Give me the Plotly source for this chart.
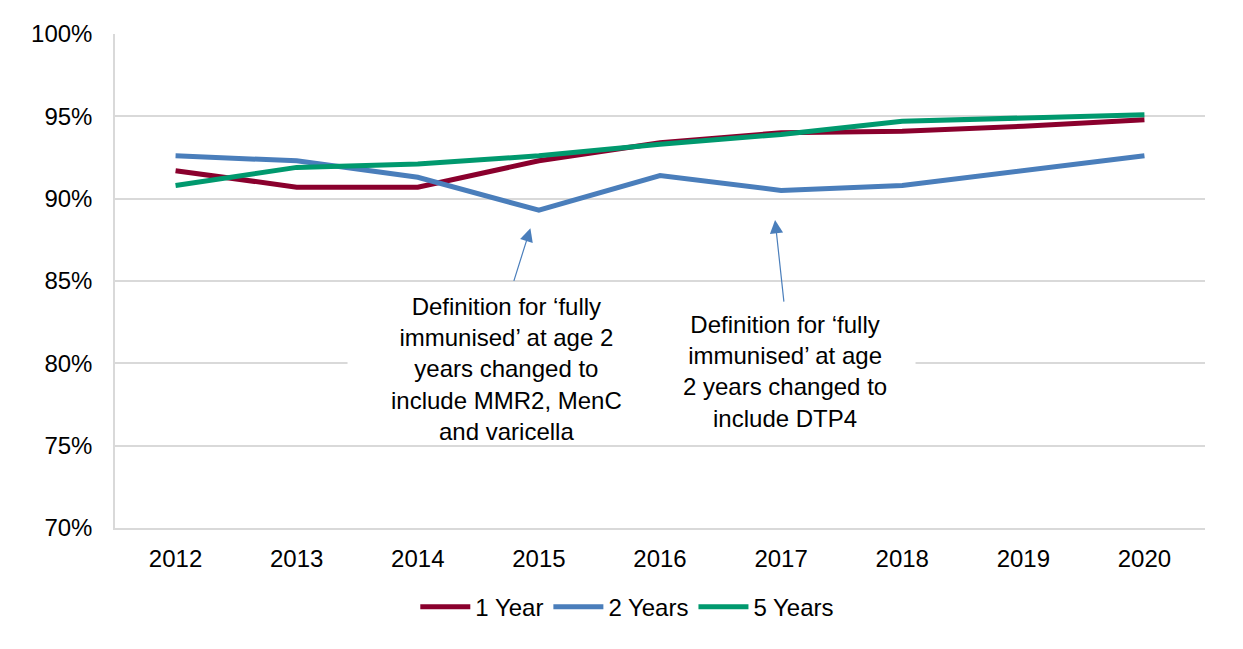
import plotly.graph_objects as go

# data (percent fully immunised)
years = [2012, 2013, 2014, 2015, 2016, 2017, 2018, 2019, 2020]
one_year = [91.7, 90.7, 90.7, 92.3, 93.4, 94.0, 94.1, 94.4, 94.8]
two_years = [92.6, 92.3, 91.3, 89.3, 91.4, 90.5, 90.8, 91.7, 92.6]
five_years = [90.8, 91.9, 92.1, 92.6, 93.3, 93.9, 94.7, 94.9, 95.1]

series = [
    ("1 Year", one_year, "#8a002d"),
    ("2 Years", two_years, "#4a7ebb"),
    ("5 Years", five_years, "#00996e"),
]

note_1 = "Definition for ‘fully<br>immunised’ at age 2<br>years changed to<br>include MMR2, MenC<br>and varicella"
note_2 = "Definition for ‘fully<br>immunised’ at age<br>2 years changed to<br>include DTP4"

FONT = "Liberation Sans, Arial, sans-serif"
GRID = "#d9d9d9"
SIZE = 24

fig = go.Figure()
for name, values, color in series:
    fig.add_trace(
        go.Scatter(
            x=years,
            y=values,
            name=name,
            mode="lines",
            line=dict(color=color, width=5),
        )
    )

# the text boxes in the original hide the 80% gridline behind them
fig.add_shape(
    type="rect",
    x0=2013.42,
    x1=2018.11,
    y0=79.0,
    y1=81.0,
    fillcolor="white",
    line=dict(width=0),
    layer="between",
)

for text, x, y in [(note_1, 2014.73, 79.65), (note_2, 2017.03, 79.5)]:
    fig.add_annotation(
        x=x,
        y=y,
        text=text,
        showarrow=False,
        font=dict(family=FONT, size=SIZE, color="#000000"),
        align="center",
    )

# arrows pointing at the dips in the 2 year series
for x, y, ax, ay in [(2014.93, 88.2, -17, 54), (2016.95, 88.7, 9, 83)]:
    fig.add_annotation(
        x=x,
        y=y,
        ax=ax,
        ay=ay,
        text="",
        showarrow=True,
        arrowhead=2,
        arrowsize=2.2,
        arrowwidth=1.2,
        arrowcolor="#4a7ebb",
    )

fig.update_xaxes(
    range=[2011.5, 2020.5],
    tickmode="array",
    tickvals=years,
    ticktext=[str(y) for y in years],
    showgrid=False,
    showline=True,
    linecolor=GRID,
    linewidth=1.5,
    ticks="",
    ticklabelstandoff=8,
    zeroline=False,
    tickfont=dict(family=FONT, size=SIZE, color="#000000"),
)
fig.update_yaxes(
    range=[70, 100],
    tickmode="linear",
    tick0=70,
    dtick=5,
    ticksuffix="%",
    showgrid=True,
    gridcolor=GRID,
    gridwidth=1.5,
    showline=True,
    linecolor=GRID,
    linewidth=1.5,
    ticks="",
    ticklabelstandoff=16,
    zeroline=False,
    tickfont=dict(family=FONT, size=SIZE, color="#000000"),
)

fig.update_layout(
    width=1235,
    height=641,
    margin=dict(l=107, r=38, t=22, b=121),
    paper_bgcolor="white",
    plot_bgcolor="white",
    font=dict(family=FONT, size=SIZE, color="#000000"),
    showlegend=True,
    legend=dict(
        orientation="h",
        x=0.47,
        xanchor="center",
        y=-0.16,
        yanchor="middle",
        font=dict(family=FONT, size=SIZE, color="#000000"),
        itemwidth=50,
        tracegroupgap=0,
    ),
)

fig.write_html("out.html")
